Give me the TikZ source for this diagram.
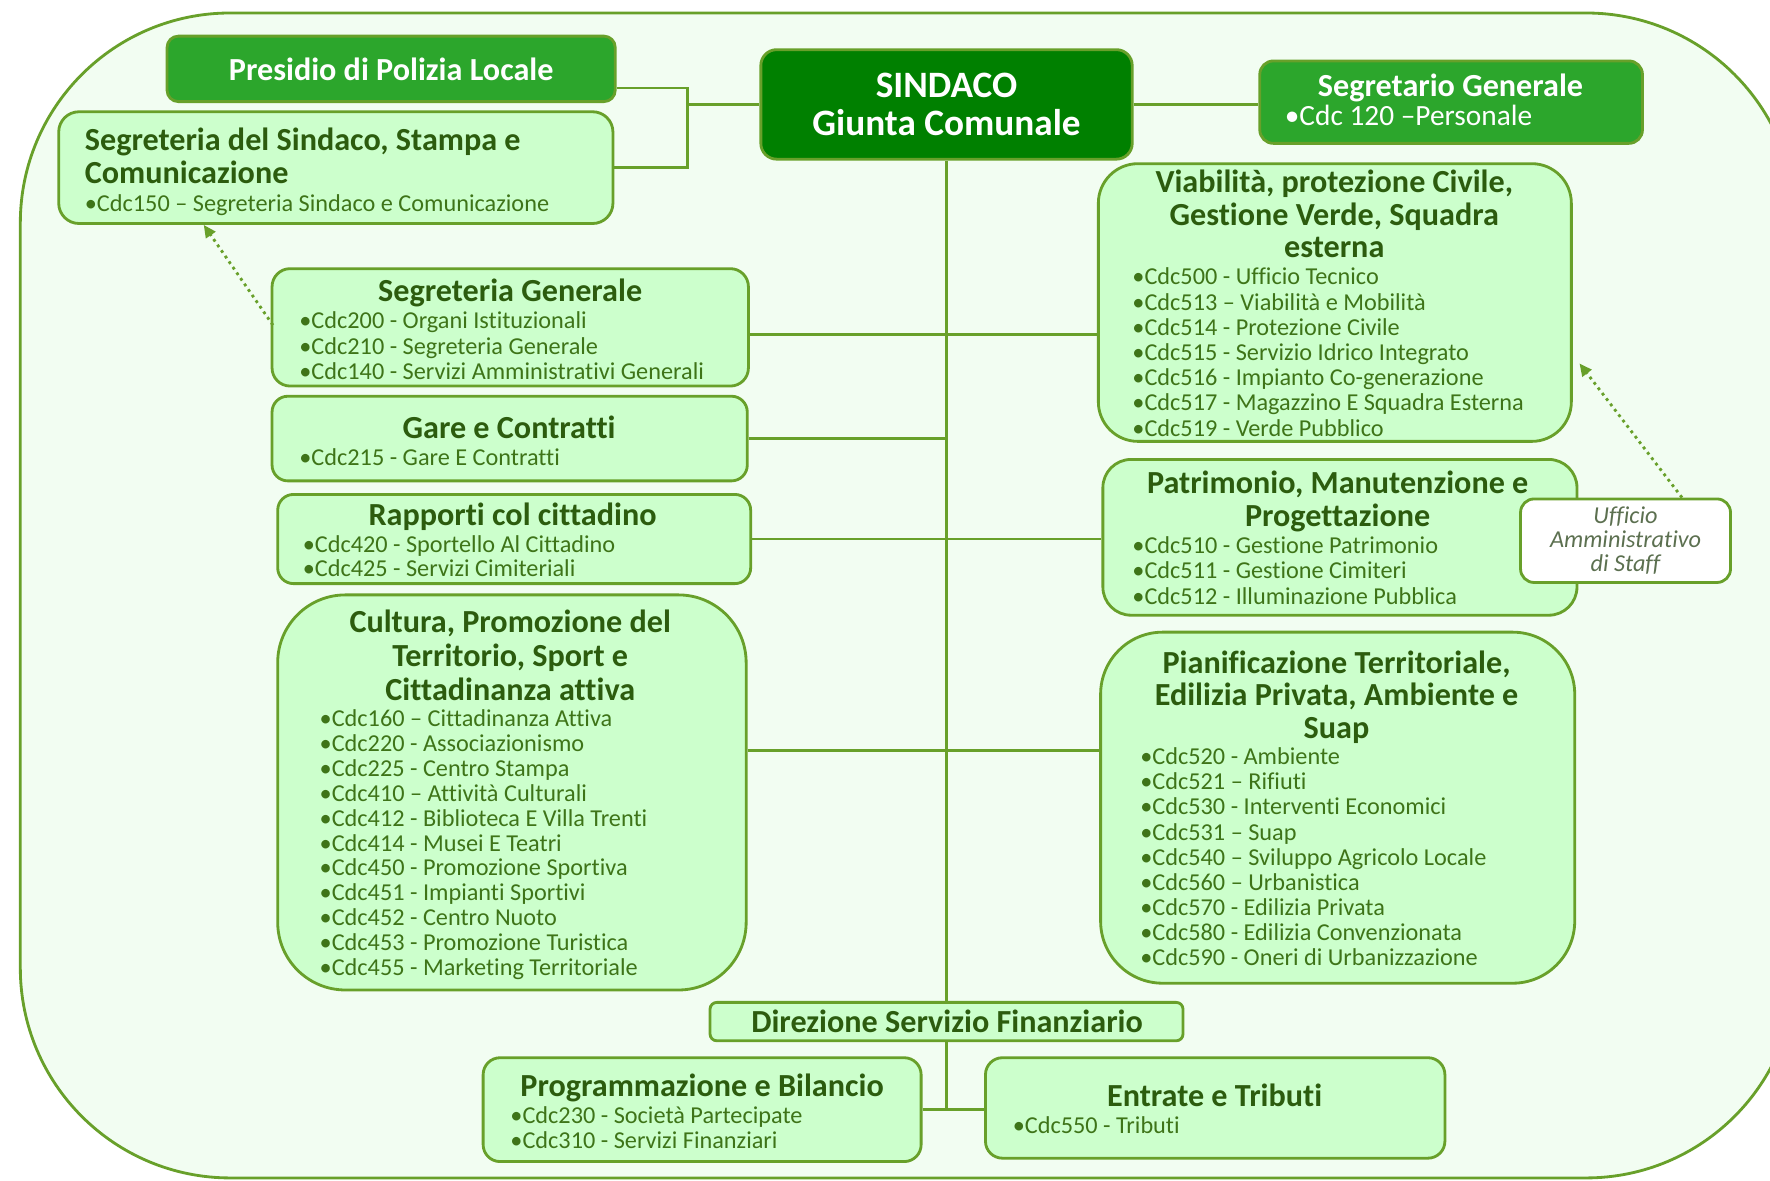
\documentclass[tikz,border=0pt]{standalone}
\usepackage{fontspec}
\setmainfont{Carlito}[Ligatures=NoCommon]
\usetikzlibrary{arrows.meta,calc}
\definecolor{linegreen}{RGB}{104,160,42}
\definecolor{boxgreen}{RGB}{204,255,204}
\definecolor{outerfill}{RGB}{242,253,242}
\definecolor{midgreen}{RGB}{44,166,44}
\definecolor{deepgreen}{RGB}{0,128,0}
\definecolor{titlegreen}{RGB}{44,92,14}
\definecolor{itemgreen}{RGB}{62,116,24}
\definecolor{staffgrey}{RGB}{92,112,80}
\tikzstyle{unitbox}=[
        draw=linegreen,
        line width=2.5pt,
        fill=boxgreen,
        inner sep=0pt
]
\tikzstyle{headbox}=[unitbox, fill=midgreen, rounded corners=10pt, text=white]
\tikzstyle{ttl}=[font=\fontsize{28.5}{29}\selectfont\bfseries, text=titlegreen, inner sep=0pt, anchor=mid, yshift=-7pt]
\tikzstyle{itm}=[font=\fontsize{21.5}{22}\selectfont, text=itemgreen, inner sep=0pt, anchor=mid west, yshift=-5pt]
\tikzstyle{link}=[draw=linegreen, line width=2.5pt]
\tikzstyle{staff}=[draw=linegreen, line width=2.5pt, dash pattern=on 2.5pt off 3.5pt,
        -{Triangle[length=11pt,width=10pt]}]

\begin{document}
\begin{tikzpicture}[x=1pt,y=-1pt]
    \useasboundingbox (0,0) rectangle (1568,1046);
    \fill[white] (0,0) rectangle (1568,1046);

    % cornice esterna
    \node[unitbox, fill=outerfill, rounded corners=186pt, minimum width=1573pt, minimum height=1032pt] (frame) at (804.5,527.5) {};

    % vertice
    \node[headbox, fill=deepgreen, rounded corners=14pt, minimum width=329pt, minimum height=97pt,
          align=center, font=\fontsize{33}{34}\selectfont\bfseries] (sindaco) at (838.5,92.5) {SINDACO\\Giunta Comunale};

    \node[headbox, minimum width=397pt, minimum height=58pt, font=\fontsize{28.5}{29}\selectfont\bfseries] (presidio) at (346.5,61) {Presidio di Polizia Locale};

    \node[headbox, rounded corners=12pt, minimum width=339pt, minimum height=73pt] (segretario) at (1285.5,90.5) {};
    \node[ttl, text=white] (segretario-t) at (1285,76) {Segretario Generale};
    \node[itm, text=white, font=\fontsize{26}{26}\selectfont] (segretario-i) at (1138,104) {•Cdc 120 –Personale};

    \node[unitbox, rounded corners=18pt, minimum width=491pt, minimum height=99pt] (segsind) at (297.5,148.5) {};
    \node[ttl, anchor=mid west] (segsind-t1) at (75,124) {Segreteria del Sindaco, Stampa e};
    \node[ttl, anchor=mid west] (segsind-t2) at (75,153) {Comunicazione};
    \node[itm] (segsind-i) at (75,180) {•Cdc150 – Segreteria Sindaco e Comunicazione};

    % colonna sinistra
    \node[unitbox, rounded corners=16pt, minimum width=422pt, minimum height=104pt] (segrgen) at (452,290) {};
    \node[ttl] (segrgen-t) at (452,258) {Segreteria Generale};
    \foreach \t [count=\i from 0] in {•Cdc200 - Organi Istituzionali,•Cdc210 - Segreteria Generale,•Cdc140 - Servizi Amministrativi Generali} {
        \node[itm] (segrgen-i\i) at (265,284+22.5*\i) {\t};
    }

    \node[unitbox, rounded corners=14pt, minimum width=421pt, minimum height=75pt] (gare) at (451.5,388.5) {};
    \node[ttl] (gare-t) at (451,379) {Gare e Contratti};
    \node[itm] (gare-i) at (265,405) {•Cdc215 - Gare E Contratti};

    \node[unitbox, rounded corners=14pt, minimum width=419pt, minimum height=79pt] (rapporti) at (455.5,477.5) {};
    \node[ttl] (rapporti-t) at (454,456) {Rapporti col cittadino};
    \foreach \t [count=\i from 0] in {•Cdc420 - Sportello Al Cittadino,•Cdc425 - Servizi Cimiteriali} {
        \node[itm] (rapporti-i\i) at (268,482+21*\i) {\t};
    }

    \node[unitbox, rounded corners=60pt, minimum width=415pt, minimum height=350pt] (cultura) at (453.5,702) {};
    \foreach \t [count=\i from 0] in {Cultura{,} Promozione del,Territorio{,} Sport e,Cittadinanza attiva} {
        \node[ttl] (cultura-t\i) at (452,551+30*\i) {\t};
    }
    \foreach \t [count=\i from 0] in {•Cdc160 – Cittadinanza Attiva,•Cdc220 - Associazionismo,•Cdc225 - Centro Stampa,
        •Cdc410 – Attività Culturali,•Cdc412 - Biblioteca E Villa Trenti,•Cdc414 - Musei E Teatri,
        •Cdc450 - Promozione Sportiva,•Cdc451 - Impianti Sportivi,•Cdc452 - Centro Nuoto,
        •Cdc453 - Promozione Turistica,•Cdc455 - Marketing Territoriale} {
        \node[itm] (cultura-i\i) at (283,636+22.1*\i) {\t};
    }

    % colonna destra
    \node[unitbox, rounded corners=35pt, minimum width=419pt, minimum height=246pt] (viab) at (1182.5,268) {};
    \foreach \t [count=\i from 0] in {Viabilità{,} protezione Civile{,},Gestione Verde{,} Squadra,esterna} {
        \node[ttl] (viab-t\i) at (1182,161+29*\i) {\t};
    }
    \foreach \t [count=\i from 0] in {•Cdc500 - Ufficio Tecnico,•Cdc513 – Viabilità e Mobilità,•Cdc514 - Protezione Civile,
        •Cdc515 - Servizio Idrico Integrato,•Cdc516 - Impianto Co-generazione,•Cdc517 - Magazzino E Squadra Esterna,
        •Cdc519 - Verde Pubblico} {
        \node[itm] (viab-i\i) at (1003,245+22.33*\i) {\t};
    }

    \node[unitbox, rounded corners=25pt, minimum width=420pt, minimum height=138pt] (patrimonio) at (1187,476) {};
    \node[ttl] (patrimonio-t0) at (1185,428) {Patrimonio, Manutenzione e};
    \node[ttl] (patrimonio-t1) at (1185,457) {Progettazione};
    \foreach \t [count=\i from 0] in {•Cdc510 - Gestione Patrimonio,•Cdc511 - Gestione Cimiteri,•Cdc512 - Illuminazione Pubblica} {
        \node[itm] (patrimonio-i\i) at (1003,483+22.5*\i) {\t};
    }

    \node[unitbox, fill=white, rounded corners=12pt, minimum width=186pt, minimum height=74pt, align=center,
          text=staffgrey, font=\fontsize{21.5}{21.5}\selectfont\itshape] (ufficio) at (1440,479) {Ufficio\\Amministrativo\\di Staff};

    \node[unitbox, rounded corners=55pt, minimum width=420pt, minimum height=311pt] (pianif) at (1185,715.5) {};
    \foreach \t [count=\i from 0] in {Pianificazione Territoriale{,},Edilizia Privata{,} Ambiente e,Suap} {
        \node[ttl] (pianif-t\i) at (1184,587+29*\i) {\t};
    }
    \foreach \t [count=\i from 0] in {•Cdc520 - Ambiente,•Cdc521 – Rifiuti,•Cdc530 - Interventi Economici,•Cdc531 – Suap,
        •Cdc540 – Sviluppo Agricolo Locale,•Cdc560 – Urbanistica,•Cdc570 - Edilizia Privata,
        •Cdc580 - Edilizia Convenzionata,•Cdc590 - Oneri di Urbanizzazione} {
        \node[itm] (pianif-i\i) at (1010,670+22.25*\i) {\t};
    }

    % area finanziaria
    \node[unitbox, rounded corners=6pt, minimum width=419pt, minimum height=34pt] (direzione) at (838.5,905) {};
    \node[ttl] (direzione-t) at (839,905) {Direzione Servizio Finanziario};

    \node[unitbox, rounded corners=15pt, minimum width=388pt, minimum height=92pt] (program) at (622,983) {};
    \node[ttl] (program-t) at (622,962) {Programmazione e Bilancio};
    \foreach \t [count=\i from 0] in {•Cdc230 - Società Partecipate,•Cdc310 - Servizi Finanziari} {
        \node[itm] (program-i\i) at (452,988+22*\i) {\t};
    }

    \node[unitbox, rounded corners=15pt, minimum width=407pt, minimum height=89pt] (entrate) at (1076.5,981.5) {};
    \node[ttl] (entrate-t) at (1076,971) {Entrate e Tributi};
    \node[itm] (entrate-i) at (897,997) {•Cdc550 - Tributi};

    % collegamenti
    \coordinate (fork) at (609,92.5);
    \draw[link] (sindaco.west) -- (fork);
    \draw[link] ($(presidio.east)+(0,17)$) -| (fork) |- (segsind.east);
    \draw[link] (sindaco.east) -- (sindaco.east -| segretario.west);
    \draw[link] (sindaco.south) -- (direzione.north);

    \coordinate (sg) at ($(segrgen.east)+(0,6)$);
    \draw[link] (sg) -- (sg -| viab.west);
    \draw[link] (gare.east) -- (gare.east -| sindaco.south);
    \draw[link] (rapporti.east) -- (rapporti.east -| patrimonio.west);
    \coordinate (cu) at ($(cultura.east)+(0,-37)$);
    \draw[link] (cu) -- (cu -| pianif.west);

    \draw[link] (direzione.south) -- (direzione.south |- program.east);
    \draw[link] (program.east) -- (program.east -| entrate.west);

    % staff
    \draw[staff] ($(segrgen.west)+(2,-2)$) -- ($(segsind.south)+(-117,0)$);
    \draw[staff] ($(ufficio.north)+(50,0)$) -- ($(viab.east)+(6,54)$);

\end{tikzpicture}
\end{document}
